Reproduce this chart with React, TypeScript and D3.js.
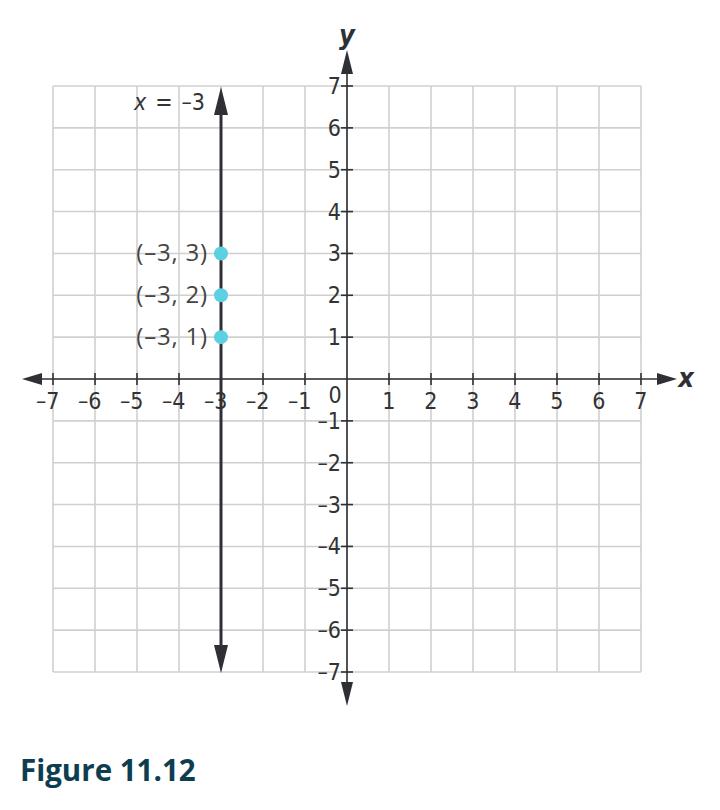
import React from "react"
import * as d3 from "d3"

const width = 720
const height = 810

// data
const gridValues = d3.range(-7, 8)
const xTickLabels = [-7, -6, -5, -4, -3, -2, -1, 1, 2, 3, 4, 5, 6, 7]
const yTickLabels = [-7, -6, -5, -4, -3, -2, -1, 1, 2, 3, 4, 5, 6, 7]
const pointXs = [-3, -3, -3]
const pointYs = [1, 2, 3]
const lineX = -3
const caption = "Figure 11.12"

const minus = (v: number) => (v < 0 ? "–" + Math.abs(v) : String(v))

const axisFont = "'DejaVu Sans Condensed', 'DejaVu Sans', sans-serif"
const labelFont = "'Open Sans', 'Noto Sans', sans-serif"

const App = () => {
  const x = d3.scaleLinear().domain([-7, 7]).range([53, 641])
  const y = d3.scaleLinear().domain([-7, 7]).range([672, 86])

  const ink = "#2e3035"
  const grid = "#d0d0d0"
  const textInk = "#333"

  // arrowhead as a path, pointing in direction
  const arrow = (tx: number, ty: number, dir: "up" | "down" | "left" | "right", len: number, half: number) => {
    const p = d3.path()
    if (dir === "up") {
      p.moveTo(tx, ty); p.lineTo(tx - half, ty + len); p.lineTo(tx + half, ty + len)
    } else if (dir === "down") {
      p.moveTo(tx, ty); p.lineTo(tx - half, ty - len); p.lineTo(tx + half, ty - len)
    } else if (dir === "left") {
      p.moveTo(tx, ty); p.lineTo(tx + len, ty - half); p.lineTo(tx + len, ty + half)
    } else {
      p.moveTo(tx, ty); p.lineTo(tx - len, ty - half); p.lineTo(tx - len, ty + half)
    }
    p.closePath()
    return p.toString()
  }

  const x0 = x(0)
  const y0 = y(0)

  return (
    <svg width={width} height={height} style={{ position: "absolute", left: 0, top: 0, background: "#fff" }}>
      {/* grid */}
      <g stroke={grid} strokeWidth={1.6}>
        {gridValues.map(v => (
          <line key={"gx" + v} x1={x(v)} x2={x(v)} y1={y(7)} y2={y(-7)} />
        ))}
        {gridValues.map(v => (
          <line key={"gy" + v} x1={x(-7)} x2={x(7)} y1={y(v)} y2={y(v)} />
        ))}
      </g>

      {/* axes */}
      <g stroke={ink} strokeWidth={1.6}>
        <line x1={32} x2={666} y1={y0} y2={y0} />
        <line x1={x0} x2={x0} y1={60} y2={695} />
        {xTickLabels.map(v => (
          <line key={"tx" + v} x1={x(v)} x2={x(v)} y1={y0 - 6} y2={y0 + 6} />
        ))}
        {yTickLabels.map(v => (
          <line key={"ty" + v} x1={x0 - 6} x2={x0 + 6} y1={y(v)} y2={y(v)} />
        ))}
      </g>
      <g fill={ink}>
        <path d={arrow(22, y0, "left", 20, 6)} />
        <path d={arrow(677, y0, "right", 20, 6)} />
        <path d={arrow(x0, 50, "up", 24, 6)} />
        <path d={arrow(x0, 706, "down", 24, 6)} />
      </g>

      {/* tick labels: the digit sits centred on the tick, the minus hangs left */}
      <g fontFamily={axisFont} fontSize={23} fill={textInk}>
        {xTickLabels.map(v => (
          <text key={"lx" + v} x={x(v) + 6.5} y={y0 + 30} textAnchor="end">
            {minus(v)}
          </text>
        ))}
        <text x={x0 - 12} y={y0 + 24} textAnchor="middle">0</text>
        {yTickLabels.map(v => (
          <text key={"ly" + v} x={x0 - 6} y={y(v) + 8} textAnchor="end">
            {minus(v)}
          </text>
        ))}
      </g>
      <g fontFamily={axisFont} fontSize={27} fontStyle="italic" fontWeight="bold" fill={ink} textAnchor="middle">
        <text x={x0} y={44}>y</text>
        <text x={686} y={y0 + 8}>x</text>
      </g>

      {/* vertical line x = -3 */}
      <line x1={x(lineX)} x2={x(lineX)} y1={100} y2={660} stroke={ink} strokeWidth={3} />
      <path d={arrow(x(lineX), 87, "up", 28, 7)} fill={ink} />
      <path d={arrow(x(lineX), 673, "down", 28, 7)} fill={ink} />
      <text x={205} y={110} fontFamily={axisFont} fontSize={23} fill={textInk} textAnchor="end">
        <tspan fontStyle="italic">x</tspan>
        <tspan dx={9}>=</tspan>
        <tspan dx={9}>{minus(lineX)}</tspan>
      </text>

      {/* points */}
      {pointYs.map((v, i) => (
        <g key={"p" + i}>
          <circle cx={x(pointXs[i])} cy={y(v)} r={7} fill="#5bd1e2" />
          <text
            x={x(pointXs[i]) - 13}
            y={y(v) + 8}
            fontFamily={labelFont}
            fontSize={24}
            letterSpacing={0.8}
            fill="#444"
            textAnchor="end"
          >
            {`(${minus(pointXs[i])}, ${v})`}
          </text>
        </g>
      ))}

      {/* caption */}
      <text x={20} y={781} fontFamily={labelFont} fontSize={29.5} fontWeight="bold" fill="#0d3e50">
        {caption}
      </text>
    </svg>
  )
}

export default App
